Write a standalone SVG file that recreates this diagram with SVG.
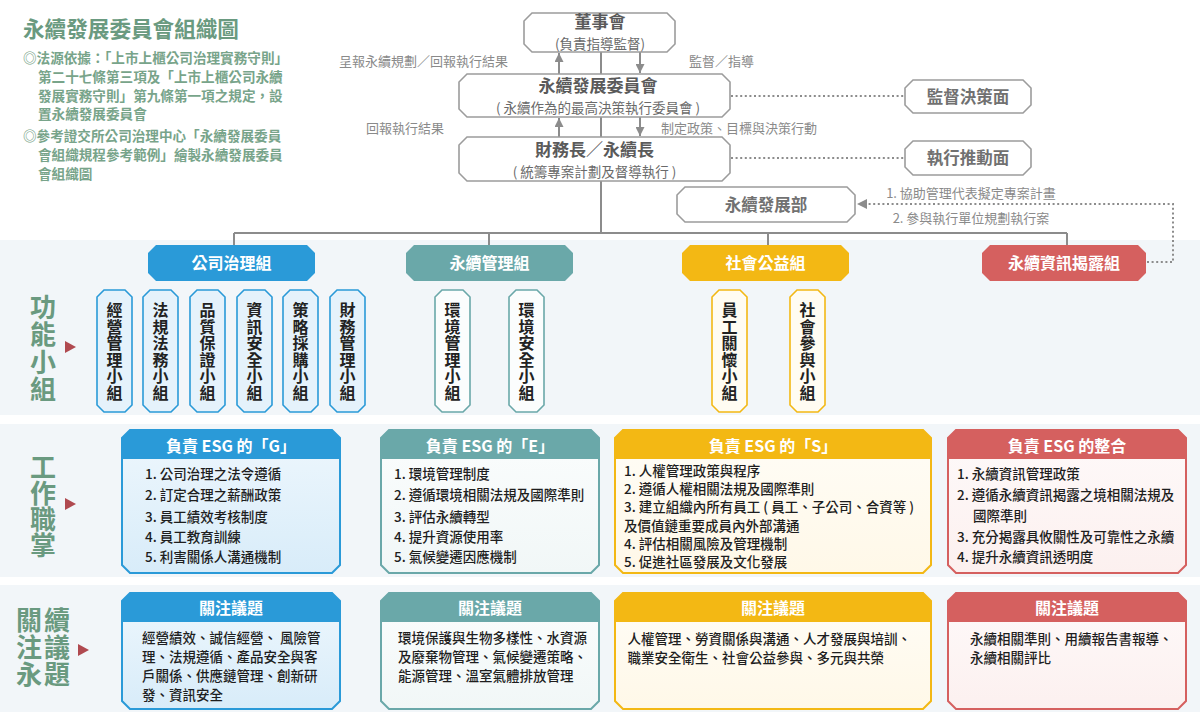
<svg xmlns="http://www.w3.org/2000/svg" xmlns:xlink="http://www.w3.org/1999/xlink" width="1200" height="717" viewBox="0 0 1200 717">
<defs>
<style>
text{font-family:'Noto Sans CJK TC','Noto Sans CJK JP',sans-serif}
.title{font-size:21.6px;font-weight:700;fill:#6a9a80}
.note{font-size:13.6px;font-weight:700;fill:#78a48a}
.lbl{font-size:13px;fill:#8a8a8a}
.bx{fill:#fff;stroke:#9c9c9c;stroke-width:1.6}
.bt{font-size:17px;font-weight:700;fill:#5a5a5a;text-anchor:middle}
.bs{font-size:13.5px;font-weight:400;fill:#6a6a6a;text-anchor:middle}
.side{font-size:16.5px;font-weight:700;fill:#717171;text-anchor:middle}
.ln{stroke:#8c8c8c;stroke-width:2;fill:none}
.dot{stroke:#8c8c8c;stroke-width:2;stroke-dasharray:2 2.6;fill:none}
.gt{font-size:16px;font-weight:700;fill:#fff;text-anchor:middle}
.sgt{font-size:16px;font-weight:700;fill:#222;writing-mode:vertical-rl;letter-spacing:0.6px}
.big{font-size:26px;font-weight:700;fill:#6a9a80;writing-mode:vertical-rl}
.li{font-size:13.5px;fill:#1e1e1e;font-weight:500}
.tri{fill:#b04a50}
.band{fill:#f2f6f9}
.cB{fill:#2a9ad8}.sB{stroke:#2a9ad8}
.cT{fill:#6aa8a9}.sT{stroke:#6aa8a9}
.cY{fill:#f3b814}.sY{stroke:#f3b814}
.cR{fill:#d5605f}.sR{stroke:#d5605f}
.ol{fill:none;stroke-width:2}
.sgB{fill:#e5f2fb;stroke:#2a9ad8;stroke-width:1.6}
.sgT{fill:#fbfdfd;stroke:#6aa8a9;stroke-width:1.6}
.sgY{fill:#fffcf2;stroke:#f3b814;stroke-width:1.6}
</style>
<linearGradient id="gB" x1="0" y1="0" x2="0" y2="1"><stop offset="0" stop-color="#eef7fd"/><stop offset="1" stop-color="#d8ecf9"/></linearGradient>
<linearGradient id="gT" x1="0" y1="0" x2="0" y2="1"><stop offset="0" stop-color="#fbfdfd"/><stop offset="1" stop-color="#f1f7f7"/></linearGradient>
<linearGradient id="gY" x1="0" y1="0" x2="0" y2="1"><stop offset="0" stop-color="#fffdf7"/><stop offset="1" stop-color="#fff8e8"/></linearGradient>
<linearGradient id="gR" x1="0" y1="0" x2="0" y2="1"><stop offset="0" stop-color="#fefafa"/><stop offset="1" stop-color="#fcf0ef"/></linearGradient>
<polygon id="sg" points="7,0 28,0 35,7 35,115 28,122 7,122 0,115 0,7"/>
<marker id="ah" viewBox="0 0 10 10" refX="10" refY="5" markerWidth="9" markerHeight="9" markerUnits="userSpaceOnUse" orient="auto"><path d="M0,0 L10,5 L0,10 z" fill="#8c8c8c"/></marker>
<marker id="ahd" viewBox="0 0 10 10" refX="10" refY="5" markerWidth="11" markerHeight="10" markerUnits="userSpaceOnUse" orient="auto"><path d="M0,0 L10,5 L0,10 z" fill="#8c8c8c"/></marker>
</defs>

<rect width="1200" height="717" fill="#fff"/>
<rect class="band" x="0" y="240" width="1200" height="175"/>
<rect class="band" x="0" y="424" width="1200" height="153"/>
<rect class="band" x="0" y="585" width="1200" height="127"/>

<g id="heading">
<text class="title" x="23" y="37">永續發展委員會組織圖</text>
<text class="note" x="23" y="63">◎法源依據：「上市上櫃公司治理實務守則」</text>
<text class="note" x="38" y="82">第二十七條第三項及「上市上櫃公司永續</text>
<text class="note" x="38" y="101">發展實務守則」第九條第一項之規定，設</text>
<text class="note" x="38" y="119">置永續發展委員會</text>
<text class="note" x="23" y="141">◎參考證交所公司治理中心「永續發展委員</text>
<text class="note" x="38" y="160">會組織規程參考範例」繪製永續發展委員</text>
<text class="note" x="38" y="179">會組織圖</text>
</g>

<g id="connectors">
<path class="ln" d="M601,52 V74 M601,117 V137 M601,181 V233 M234,233 H1067 M234,233 V245 M489,233 V245 M768,233 V245 M1067,233 V245"/>
<path class="ln" d="M559,74 V53" marker-end="url(#ah)"/>
<path class="ln" d="M640,52 V73" marker-end="url(#ah)"/>
<path class="ln" d="M559,137 V118" marker-end="url(#ah)"/>
<path class="ln" d="M640,117 V136" marker-end="url(#ah)"/>
<path class="dot" d="M731,96 H905 M731,158 H905"/>
<path class="dot" d="M1147,262 H1173 V204 H857" marker-end="url(#ahd)"/>
<text class="lbl" x="423.5" y="65.8" text-anchor="middle">呈報永續規劃／回報執行結果</text>
<text class="lbl" x="689" y="65.8">監督／指導</text>
<text class="lbl" x="366" y="132.8">回報執行結果</text>
<text class="lbl" x="661" y="132.8">制定政策、目標與決策行動</text>
<text class="lbl" x="971" y="197.8" text-anchor="middle">1. 協助管理代表擬定專案計畫</text>
<text class="lbl" x="971" y="222.8" text-anchor="middle">2. 參與執行單位規劃執行案</text>
</g>

<g id="board">
<polygon class="bx" points="532,13 667,13 675,21 675,44 667,52 532,52 524,44 524,21"/>
<text class="bt" x="600" y="28">董事會</text>
<text class="bs" x="600" y="49.2">(負責指導監督)</text>
</g>
<g id="committee">
<polygon class="bx" points="467,74 722,74 730,82 730,109 722,117 467,117 459,109 459,82"/>
<text class="bt" x="598" y="92.4">永續發展委員會</text>
<text class="bs" x="598" y="113.3">( 永續作為的最高決策執行委員會 )</text>
</g>
<g id="cfo">
<polygon class="bx" points="467,137 722,137 730,145 730,173 722,181 467,181 459,173 459,145"/>
<text class="bt" x="594.5" y="155.8">財務長／永續長</text>
<text class="bs" x="594.5" y="177">( 統籌專案計劃及督導執行 )</text>
</g>
<g id="supervise">
<polygon class="bx" points="913,80 1023,80 1031,88 1031,105 1023,113 913,113 905,105 905,88"/>
<text class="side" x="968" y="102.6">監督決策面</text>
</g>
<g id="execute">
<polygon class="bx" points="913,141 1023,141 1031,149 1031,167 1023,175 913,175 905,167 905,149"/>
<text class="side" x="968" y="164.1">執行推動面</text>
</g>
<g id="dept">
<polygon class="bx" points="685,187 847,187 855,195 855,214 847,222 685,222 677,214 677,195"/>
<text class="side" x="766" y="210.6">永續發展部</text>
</g>

<g id="grp-gov">
<polygon class="cB" points="156,245 307,245 315,253 315,273 307,281 156,281 148,273 148,253"/>
<text class="gt" x="231.5" y="269">公司治理組</text>
</g>
<g id="grp-env">
<polygon class="cT" points="414,245 565,245 573,253 573,273 565,281 414,281 406,273 406,253"/>
<text class="gt" x="489.5" y="269">永續管理組</text>
</g>
<g id="grp-soc">
<polygon class="cY" points="690,245 841,245 849,253 849,273 841,281 690,281 682,273 682,253"/>
<text class="gt" x="765.5" y="269">社會公益組</text>
</g>
<g id="grp-disc">
<polygon class="cR" points="990,245 1138,245 1146,253 1146,273 1138,281 990,281 982,273 982,253"/>
<text class="gt" x="1064" y="269">永續資訊揭露組</text>
</g>

<g id="side-labels">
<text class="big" x="43" y="294" style="letter-spacing:1.4px">功能小組</text>
<polygon class="tri" points="65,341 76,347 65,353"/>
<text class="big" x="43" y="454">工作職掌</text>
<polygon class="tri" points="65,498 76,504 65,510"/>
<text class="big" x="29" y="607" style="letter-spacing:1px">關注永</text>
<text class="big" x="57" y="607" style="letter-spacing:1px">續議題</text>
<polygon class="tri" points="78,644 89,650 78,656"/>
</g>

<g id="sub-1"><use xlink:href="#sg" href="#sg" x="97" y="290" class="sgB"/><text class="sgt" x="114.5" y="302">經營管理小組</text></g>
<g id="sub-2"><use xlink:href="#sg" href="#sg" x="143" y="290" class="sgB"/><text class="sgt" x="160.5" y="302">法規法務小組</text></g>
<g id="sub-3"><use xlink:href="#sg" href="#sg" x="190" y="290" class="sgB"/><text class="sgt" x="207.5" y="302">品質保證小組</text></g>
<g id="sub-4"><use xlink:href="#sg" href="#sg" x="237" y="290" class="sgB"/><text class="sgt" x="254.5" y="302">資訊安全小組</text></g>
<g id="sub-5"><use xlink:href="#sg" href="#sg" x="283" y="290" class="sgB"/><text class="sgt" x="300.5" y="302">策略採購小組</text></g>
<g id="sub-6"><use xlink:href="#sg" href="#sg" x="330" y="290" class="sgB"/><text class="sgt" x="347.5" y="302">財務管理小組</text></g>
<g id="sub-7"><use xlink:href="#sg" href="#sg" x="435" y="290" class="sgT"/><text class="sgt" x="452.5" y="302">環境管理小組</text></g>
<g id="sub-8"><use xlink:href="#sg" href="#sg" x="509" y="290" class="sgT"/><text class="sgt" x="526.5" y="302">環境安全小組</text></g>
<g id="sub-9"><use xlink:href="#sg" href="#sg" x="712" y="290" class="sgY"/><text class="sgt" x="729.5" y="302">員工關懷小組</text></g>
<g id="sub-10"><use xlink:href="#sg" href="#sg" x="790" y="290" class="sgY"/><text class="sgt" x="807.5" y="302">社會參與小組</text></g>

<g id="duty-g">
<polygon fill="url(#gB)" points="130,430 332,430 340,438 340,565 332,573 130,573 122,565 122,438"/>
<polygon class="cB" points="130,430 332,430 340,438 340,459 122,459 122,438"/>
<polygon class="ol sB" points="130,430 332,430 340,438 340,565 332,573 130,573 122,565 122,438"/>
<text class="gt" x="231" y="452">負責 ESG 的「G」</text>
<text class="li" x="145" y="479">1. 公司治理之法令遵循</text>
<text class="li" x="145" y="500">2. 訂定合理之薪酬政策</text>
<text class="li" x="145" y="522">3. 員工績效考核制度</text>
<text class="li" x="145" y="542">4. 員工教育訓練</text>
<text class="li" x="145" y="562">5. 利害關係人溝通機制</text>
</g>
<g id="duty-e">
<polygon fill="url(#gT)" points="389,430 591,430 599,438 599,565 591,573 389,573 381,565 381,438"/>
<polygon class="cT" points="389,430 591,430 599,438 599,459 381,459 381,438"/>
<polygon class="ol sT" points="389,430 591,430 599,438 599,565 591,573 389,573 381,565 381,438"/>
<text class="gt" x="490" y="452">負責 ESG 的「E」</text>
<text class="li" x="394" y="479">1. 環境管理制度</text>
<text class="li" x="394" y="500">2. 遵循環境相關法規及國際準則</text>
<text class="li" x="394" y="522">3. 評估永續轉型</text>
<text class="li" x="394" y="542">4. 提升資源使用率</text>
<text class="li" x="394" y="562">5. 氣候變遷因應機制</text>
</g>
<g id="duty-s">
<polygon fill="url(#gY)" points="623,430 923,430 931,438 931,565 923,573 623,573 615,565 615,438"/>
<polygon class="cY" points="623,430 923,430 931,438 931,459 615,459 615,438"/>
<polygon class="ol sY" points="623,430 923,430 931,438 931,565 923,573 623,573 615,565 615,438"/>
<text class="gt" x="773" y="452">負責 ESG 的「S」</text>
<text class="li" x="624" y="476">1. 人權管理政策與程序</text>
<text class="li" x="624" y="494">2. 遵循人權相關法規及國際準則</text>
<text class="li" x="624" y="512">3. 建立組織內所有員工 ( 員工、子公司、合資等 )</text>
<text class="li" x="624" y="531">及價值鏈重要成員內外部溝通</text>
<text class="li" x="624" y="549">4. 評估相關風險及管理機制</text>
<text class="li" x="624" y="567">5. 促進社區發展及文化發展</text>
</g>
<g id="duty-int">
<polygon fill="url(#gR)" points="956,430 1178,430 1186,438 1186,565 1178,573 956,573 948,565 948,438"/>
<polygon class="cR" points="956,430 1178,430 1186,438 1186,459 948,459 948,438"/>
<polygon class="ol sR" points="956,430 1178,430 1186,438 1186,565 1178,573 956,573 948,565 948,438"/>
<text class="gt" x="1067" y="452">負責 ESG 的整合</text>
<text class="li" x="957" y="479">1. 永續資訊管理政策</text>
<text class="li" x="957" y="500">2. 遵循永續資訊揭露之境相關法規及</text>
<text class="li" x="973" y="521">國際準則</text>
<text class="li" x="957" y="542">3. 充分揭露具攸關性及可靠性之永續</text>
<text class="li" x="957" y="562">4. 提升永續資訊透明度</text>
</g>

<g id="focus-g">
<polygon fill="url(#gB)" points="130,593 332,593 340,601 340,701 332,709 130,709 122,701 122,601"/>
<polygon class="cB" points="130,593 332,593 340,601 340,622 122,622 122,601"/>
<polygon class="ol sB" points="130,593 332,593 340,601 340,701 332,709 130,709 122,701 122,601"/>
<text class="gt" x="231" y="613.5">關注議題</text>
<text class="li" x="142" y="642.5">經營績效、誠信經營、 風險管</text>
<text class="li" x="142" y="661.5">理、法規遵循、產品安全與客</text>
<text class="li" x="142" y="680.5">戶關係、供應鏈管理、創新研</text>
<text class="li" x="142" y="699.5">發、資訊安全</text>
</g>
<g id="focus-e">
<polygon fill="url(#gT)" points="389,593 591,593 599,601 599,701 591,709 389,709 381,701 381,601"/>
<polygon class="cT" points="389,593 591,593 599,601 599,622 381,622 381,601"/>
<polygon class="ol sT" points="389,593 591,593 599,601 599,701 591,709 389,709 381,701 381,601"/>
<text class="gt" x="490" y="613.5">關注議題</text>
<text class="li" x="398" y="642.5">環境保護與生物多樣性、水資源</text>
<text class="li" x="398" y="661.5">及廢棄物管理、氣候變遷策略、</text>
<text class="li" x="398" y="680.5">能源管理、溫室氣體排放管理</text>
</g>
<g id="focus-s">
<polygon fill="url(#gY)" points="623,593 923,593 931,601 931,701 923,709 623,709 615,701 615,601"/>
<polygon class="cY" points="623,593 923,593 931,601 931,622 615,622 615,601"/>
<polygon class="ol sY" points="623,593 923,593 931,601 931,701 923,709 623,709 615,701 615,601"/>
<text class="gt" x="773" y="613.5">關注議題</text>
<text class="li" x="627.5" y="644">人權管理、勞資關係與溝通、人才發展與培訓、</text>
<text class="li" x="627.5" y="663">職業安全衛生、社會公益參與、多元與共榮</text>
</g>
<g id="focus-int">
<polygon fill="url(#gR)" points="956,593 1178,593 1186,601 1186,701 1178,709 956,709 948,701 948,601"/>
<polygon class="cR" points="956,593 1178,593 1186,601 1186,622 948,622 948,601"/>
<polygon class="ol sR" points="956,593 1178,593 1186,601 1186,701 1178,709 956,709 948,701 948,601"/>
<text class="gt" x="1067" y="613.5">關注議題</text>
<text class="li" x="970" y="644">永續相關準則、用續報告書報導、</text>
<text class="li" x="970" y="663">永續相關評比</text>
</g>
</svg>
